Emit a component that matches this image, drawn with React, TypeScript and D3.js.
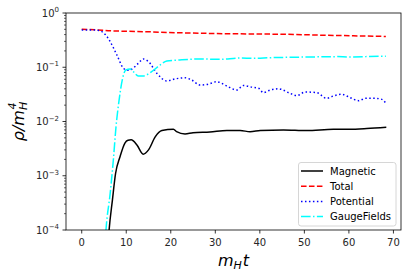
import { useEffect, useRef } from "react";
import * as d3 from "d3";

// time samples and energy densities
const tTotal = [0, 3, 6.4, 10, 13.8, 21, 28.8, 39.3, 46, 54, 61, 68.3];
const total = [0.5, 0.49, 0.47, 0.46, 0.453, 0.434, 0.42, 0.41, 0.405, 0.39, 0.38, 0.37];

const tPotential = [
  0, 2.6, 4.1, 5.3, 6.4, 7.9, 9.4, 10.3, 11.2, 12.7, 13.8, 15, 16.9, 19.1, 21,
  23.2, 24.7, 26.6, 28.5, 30.3, 32.6, 34.8, 36.3, 38.2, 39.7, 40.8, 42.3, 44.2,
  46.8, 48.3, 50.2, 52.8, 55, 56.5, 58.4, 60.3, 62.2, 63.7, 65.9, 67.4, 68.3,
];
const potential = [
  0.486, 0.486, 0.47, 0.4, 0.296, 0.168, 0.095, 0.088, 0.092, 0.118, 0.142,
  0.127, 0.077, 0.056, 0.061, 0.064, 0.058, 0.047, 0.049, 0.054, 0.045, 0.038,
  0.046, 0.043, 0.041, 0.034, 0.038, 0.04, 0.033, 0.03, 0.035, 0.034, 0.0267,
  0.0295, 0.0317, 0.0275, 0.0242, 0.0267, 0.0267, 0.0256, 0.0216,
];

const tGauge = [
  5.0, 5.45, 6.4, 7.1, 7.7, 8.4, 9.1, 9.9, 10.9, 11.6, 12.7, 13.8, 15.7, 17.6,
  19.1, 22, 26.6, 31, 35.6, 38.5, 42.3, 50, 57.3, 60, 67.5, 68.3,
];
const gauge = [
  2.5e-5, 1e-4, 4.8e-4, 1.95e-3, 8e-3, 0.025, 0.058, 0.089, 0.093, 0.083, 0.069,
  0.069, 0.083, 0.11, 0.13, 0.136, 0.142, 0.14, 0.148, 0.146, 0.15, 0.154,
  0.157, 0.155, 0.159, 0.159,
];

const tMagnetic = [
  5.7, 6.15, 6.9, 7.6, 8.6, 9.7, 10.4, 11.1, 12.4, 13.8, 15, 16.5, 18, 20.6,
  21.3, 23.2, 25, 28.8, 32.6, 35.6, 37.8, 40.1, 45.3, 50.5, 56.5, 60, 64, 68.4,
];
const magnetic = [
  3e-5, 1e-4, 3.6e-4, 1.1e-3, 2.24e-3, 4e-3, 4.5e-3, 4.6e-3, 3.7e-3, 2.5e-3,
  3e-3, 5.2e-3, 6.8e-3, 7.2e-3, 6.5e-3, 5.9e-3, 6.2e-3, 6.4e-3, 6.8e-3,
  6.8e-3, 6.5e-3, 6.8e-3, 7e-3, 6.8e-3, 7.2e-3, 7.2e-3, 7.4e-3, 7.8e-3,
];

const xTicks = [0, 10, 20, 30, 40, 50, 60, 70];
const yExponents = [0, -1, -2, -3, -4];

const seriesNames = ["Magnetic", "Total", "Potential", "GaugeFields"];

const FONT = "'DejaVu Sans', sans-serif";

const App = () => {
  const svgRef = useRef<SVGSVGElement>(null);

  useEffect(() => {
    const svg = d3.select(svgRef.current);
    svg.selectAll("*").remove();

    const left = 66;
    const right = 401;
    const top = 13;
    const bottom = 230;

    const x = d3.scaleLinear().domain([-3.53, 71.7]).range([left, right]);
    const y = d3.scaleLog().domain([1e-4, 1]).range([bottom, top]);

    svg
      .append("defs")
      .append("clipPath")
      .attr("id", "plotClip")
      .append("rect")
      .attr("x", left)
      .attr("y", top)
      .attr("width", right - left)
      .attr("height", bottom - top);

    const series = [
      { t: tMagnetic, v: magnetic, color: "#000000", dash: null },
      { t: tTotal, v: total, color: "#ff0000", dash: "5.55,2.4" },
      { t: tPotential, v: potential, color: "#0000ff", dash: "1.5,2.475" },
      { t: tGauge, v: gauge, color: "#00ffff", dash: "9.6,2.4,1.5,2.4" },
    ];

    const line = d3
      .line<[number, number]>()
      .x((d) => x(d[0]))
      .y((d) => y(d[1]))
      .curve(d3.curveMonotoneX);

    const plot = svg.append("g").attr("clip-path", "url(#plotClip)");
    // draw order as in matplotlib: Magnetic first, GaugeFields last
    series.forEach((s) => {
      const pts = s.t.map((t, i) => [t, s.v[i]] as [number, number]);
      plot
        .append("path")
        .datum(pts)
        .attr("fill", "none")
        .attr("stroke", s.color)
        .attr("stroke-width", 1.5)
        .attr("stroke-dasharray", s.dash)
        .attr("d", line);
    });

    // spines
    svg
      .append("rect")
      .attr("x", left)
      .attr("y", top)
      .attr("width", right - left)
      .attr("height", bottom - top)
      .attr("fill", "none")
      .attr("stroke", "#000")
      .attr("stroke-width", 0.8);

    // x axis
    const xg = svg.append("g");
    xTicks.forEach((t) => {
      xg.append("line")
        .attr("x1", x(t))
        .attr("x2", x(t))
        .attr("y1", bottom)
        .attr("y2", bottom + 3.5)
        .attr("stroke", "#000")
        .attr("stroke-width", 0.8);
      xg.append("text")
        .attr("x", x(t))
        .attr("y", bottom + 15.5)
        .attr("text-anchor", "middle")
        .style("font-family", FONT)
        .style("font-size", "10px")
        .attr("fill", "#262626")
        .text(t);
    });

    // y axis (log) with minor ticks
    const yg = svg.append("g");
    yExponents.forEach((e) => {
      const yy = y(Math.pow(10, e));
      yg.append("line")
        .attr("x1", left - 3.5)
        .attr("x2", left)
        .attr("y1", yy)
        .attr("y2", yy)
        .attr("stroke", "#000")
        .attr("stroke-width", 0.8);
      const label = yg
        .append("text")
        .attr("x", left - 7)
        .attr("y", yy + 3.5)
        .attr("text-anchor", "end")
        .style("font-family", FONT)
        .style("font-size", "10px")
        .attr("fill", "#262626");
      label.append("tspan").text("10");
      label
        .append("tspan")
        .attr("dy", -4.5)
        .style("font-size", "7px")
        .text(e === 0 ? "0" : "\u2212" + Math.abs(e));
      if (e < 0) {
        for (let m = 2; m <= 9; m++) {
          const ym = y(m * Math.pow(10, e));
          yg.append("line")
            .attr("x1", left - 2)
            .attr("x2", left)
            .attr("y1", ym)
            .attr("y2", ym)
            .attr("stroke", "#000")
            .attr("stroke-width", 0.6);
        }
      }
    });

    // x label: m_H t
    const xl = svg.append("g").style("font-family", FONT).attr("fill", "#000");
    const xm = xl
      .append("text")
      .attr("y", 266)
      .style("font-size", "16px")
      .style("font-style", "italic")
      .text("m");
    const mw = (xm.node() as SVGTextElement).getComputedTextLength();
    const xh = xl
      .append("text")
      .attr("y", 269)
      .style("font-size", "11px")
      .style("font-style", "italic")
      .text("H");
    const hw = (xh.node() as SVGTextElement).getComputedTextLength();
    const xt = xl
      .append("text")
      .attr("y", 266)
      .style("font-size", "16px")
      .style("font-style", "italic")
      .text("t");
    const tw = (xt.node() as SVGTextElement).getComputedTextLength();
    const xw = mw + hw + 1 + tw;
    const x0 = (left + right) / 2 - xw / 2;
    xm.attr("x", x0);
    xh.attr("x", x0 + mw);
    xt.attr("x", x0 + mw + hw + 1);

    // y label: rho / m_H^4
    const yl = svg
      .append("g")
      .attr("transform", `translate(24,${(top + bottom) / 2}) rotate(-90)`)
      .style("font-family", FONT)
      .attr("fill", "#000");
    const yr = yl
      .append("text")
      .attr("y", 0)
      .style("font-size", "16px")
      .style("font-style", "italic")
      .text("\u03c1/m");
    const rw = (yr.node() as SVGTextElement).getComputedTextLength();
    const ysup = yl
      .append("text")
      .attr("y", -8)
      .style("font-size", "11px")
      .style("font-style", "italic")
      .text("4");
    const ysub = yl
      .append("text")
      .attr("y", 3)
      .style("font-size", "11px")
      .style("font-style", "italic")
      .text("H");
    const sw = Math.max(
      (ysup.node() as SVGTextElement).getComputedTextLength(),
      (ysub.node() as SVGTextElement).getComputedTextLength()
    );
    const y0 = -(rw + sw) / 2;
    yr.attr("x", y0);
    ysup.attr("x", y0 + rw + 0.5);
    ysub.attr("x", y0 + rw);

    // legend
    const lg = svg.append("g").style("font-family", FONT);
    lg.append("rect")
      .attr("x", 298.5)
      .attr("y", 162.5)
      .attr("width", 97.5)
      .attr("height", 63.5)
      .attr("rx", 2.5)
      .attr("fill", "#fff")
      .attr("fill-opacity", 0.8)
      .attr("stroke", "#cccccc")
      .attr("stroke-width", 0.8);
    series.forEach((s, i) => {
      const ry = 171 + i * 15.2;
      lg.append("line")
        .attr("x1", 301)
        .attr("x2", 323)
        .attr("y1", ry)
        .attr("y2", ry)
        .attr("stroke", s.color)
        .attr("stroke-width", 1.5)
        .attr("stroke-dasharray", s.dash);
      lg.append("text")
        .attr("x", 330)
        .attr("y", ry + 3.6)
        .style("font-size", "10px")
        .attr("fill", "#000")
        .text(seriesNames[i]);
    });
  }, []);

  return (
    <svg
      ref={svgRef}
      width={411}
      height={277}
      style={{ position: "absolute", left: 0, top: 0, background: "#fff" }}
    ></svg>
  );
};

export default App;
